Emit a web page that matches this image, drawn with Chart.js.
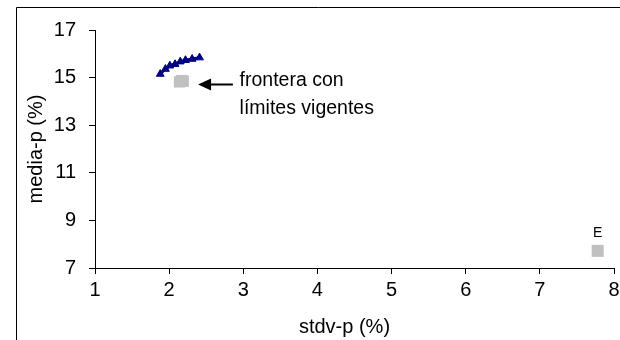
<!DOCTYPE html>
<html>
<head>
<meta charset="utf-8">
<script src="https://cdn.jsdelivr.net/npm/chart.js@4/dist/chart.umd.min.js"></script>
<style>
  html, body { margin: 0; padding: 0; background: #ffffff; }
  #wrap { width: 620px; height: 340px; }
</style>
</head>
<body>
<div id="wrap"><canvas id="c" width="620" height="340"></canvas></div>
<script>
// ---- data ----
const frontierX = [1.88, 1.95, 2.01, 2.08, 2.15, 2.22, 2.31, 2.41];
const frontierY = [15.15, 15.36, 15.50, 15.56, 15.67, 15.73, 15.78, 15.84];
const currentX = [2.14, 2.17, 2.19];
const currentY = [14.82, 14.87, 14.85];
const pointEX = [7.78];
const pointEY = [7.72];
const pointELabels = ['E'];
const xTickValues = [1, 2, 3, 4, 5, 6, 7, 8];
const yTickValues = [7, 9, 11, 13, 15, 17];
const xTitle = 'stdv-p (%)';
const yTitle = 'media-p (%)';
const noteLines = ['frontera con', 'límites vigentes'];
// annotation anchor in data units: arrow tail/head and text start
const arrowFrom = [2.86, 14.73];
const arrowTo = [2.39, 14.73];
const noteAt = [2.95, 14.65];

const toPts = (xs, ys) => xs.map((x, i) => ({ x: x, y: ys[i] }));

const FONT = '"Liberation Sans", Arial, sans-serif';

const framePlugin = {
  id: 'frame',
  beforeDraw(chart) {
    const ctx = chart.ctx;
    ctx.save();
    ctx.strokeStyle = '#000';
    ctx.lineWidth = 1;
    ctx.beginPath();
    ctx.moveTo(16.5, 340);
    ctx.lineTo(16.5, 7.5);
    ctx.lineTo(620, 7.5);
    ctx.stroke();
    ctx.restore();
  }
};

const notesPlugin = {
  id: 'notes',
  afterDatasetsDraw(chart) {
    const ctx = chart.ctx;
    const xs = chart.scales.x, ys = chart.scales.y;
    ctx.save();
    // E label
    ctx.fillStyle = '#000';
    ctx.font = '14px ' + FONT;
    ctx.textAlign = 'center';
    ctx.textBaseline = 'middle';
    pointEX.forEach((v, i) => {
      ctx.fillText(pointELabels[i], xs.getPixelForValue(v), ys.getPixelForValue(pointEY[i]) - 18);
    });
    // arrow
    const x1 = xs.getPixelForValue(arrowFrom[0]);
    const y1 = Math.round(ys.getPixelForValue(arrowFrom[1])) + 0.5;
    const x2 = xs.getPixelForValue(arrowTo[0]);
    ctx.strokeStyle = '#000';
    ctx.lineWidth = 2;
    ctx.beginPath();
    ctx.moveTo(x1, y1);
    ctx.lineTo(x2 + 10, y1);
    ctx.stroke();
    ctx.beginPath();
    ctx.moveTo(x2, y1);
    ctx.lineTo(x2 + 13, y1 - 6);
    ctx.lineTo(x2 + 13, y1 + 6);
    ctx.closePath();
    ctx.fill();
    // text
    ctx.font = '19.5px ' + FONT;
    ctx.textAlign = 'left';
    ctx.textBaseline = 'alphabetic';
    const tx = xs.getPixelForValue(noteAt[0]);
    const ty = ys.getPixelForValue(noteAt[1]);
    noteLines.forEach((t, i) => ctx.fillText(t, tx, ty + i * 28));
    // x axis title (reference sits a little left of the plot centre)
    ctx.font = '20px ' + FONT;
    ctx.textAlign = 'center';
    ctx.textBaseline = 'middle';
    ctx.fillText(xTitle, (xs.left + xs.right) / 2 - 10, 327);
    ctx.restore();
  }
};

new Chart(document.getElementById('c'), {
  type: 'scatter',
  data: {
    datasets: [
      {
        data: toPts(frontierX, frontierY),
        showLine: true,
        borderColor: '#000080',
        backgroundColor: '#000080',
        borderWidth: 3,
        pointStyle: 'triangle',
        pointRadius: 4.5,
        pointBorderWidth: 1
      },
      {
        data: toPts(currentX, currentY),
        showLine: false,
        borderColor: '#C0C0C0',
        backgroundColor: '#C0C0C0',
        pointStyle: 'rect',
        pointRadius: 8,
        pointBorderWidth: 0
      },
      {
        data: toPts(pointEX, pointEY),
        showLine: false,
        borderColor: '#C0C0C0',
        backgroundColor: '#C0C0C0',
        pointStyle: 'rect',
        pointRadius: 8.5,
        pointBorderWidth: 0
      }
    ]
  },
  options: {
    responsive: false,
    animation: false,
    devicePixelRatio: 1,
    layout: { autoPadding: false, padding: { left: 0, top: 30, right: 6, bottom: 0 } },
    plugins: { legend: { display: false }, tooltip: { enabled: false } },
    scales: {
      x: {
        type: 'linear',
        min: 1, max: 8,
        afterFit: s => { s.height = 72; s.paddingRight = 0; s.paddingLeft = 0; },
        afterBuildTicks: s => { s.ticks = xTickValues.map(v => ({ value: v })); },
        ticks: { color: '#000', font: { family: FONT, size: 20 }, padding: 4, maxRotation: 0 },
        grid: { drawOnChartArea: false, drawTicks: true, tickLength: 6, color: '#000', lineWidth: 1 },
        border: { display: true, color: '#000', width: 1 },
        title: { display: false }
      },
      y: {
        type: 'linear',
        min: 7, max: 17,
        afterFit: s => { s.width = 95; },
        afterBuildTicks: s => { s.ticks = yTickValues.map(v => ({ value: v })); },
        ticks: { color: '#000', font: { family: FONT, size: 20 }, padding: 13 },
        grid: { drawOnChartArea: false, drawTicks: true, tickLength: 6, color: '#000', lineWidth: 1 },
        border: { display: true, color: '#000', width: 1 },
        title: { display: true, text: yTitle, color: '#000', font: { family: FONT, size: 20 }, padding: { top: 24, bottom: 0 } }
      }
    }
  },
  plugins: [framePlugin, notesPlugin]
});
</script>
</body>
</html>
